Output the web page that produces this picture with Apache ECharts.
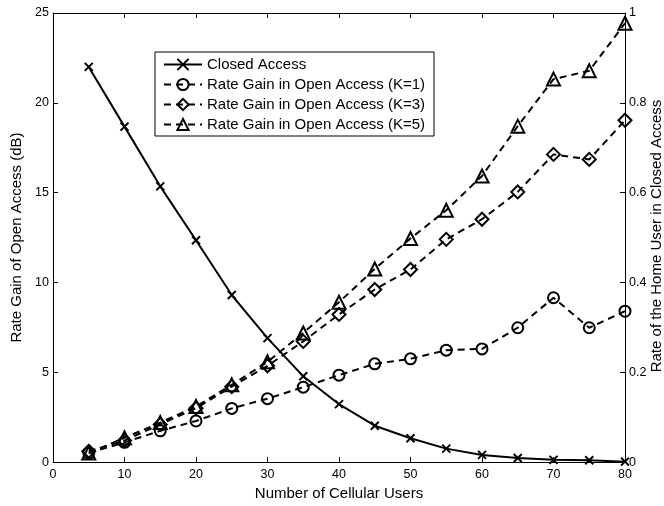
<!DOCTYPE html>
<html>
<head>
<meta charset="utf-8">
<script src="https://cdn.jsdelivr.net/npm/echarts@6/dist/echarts.min.js"></script>
<style>
  html, body { margin: 0; padding: 0; background: #fff; }
  #chart { width: 664px; height: 506px; }
</style>
</head>
<body>
<div id="chart"></div>
<script>
var users = [5, 10, 15, 20, 25, 30, 35, 40, 45, 50, 55, 60, 65, 70, 75, 80];
var closedAccess = [0.88, 0.747, 0.614, 0.494, 0.372, 0.276, 0.191, 0.129, 0.081, 0.053, 0.030, 0.016, 0.009, 0.005, 0.004, 0.001];
var gainK1 = [0.5, 1.1, 1.74, 2.29, 2.99, 3.53, 4.17, 4.84, 5.47, 5.75, 6.23, 6.30, 7.48, 9.15, 7.48, 8.4];
var gainK3 = [0.6, 1.2, 2.1, 3.0, 4.2, 5.36, 6.72, 8.22, 9.61, 10.72, 12.4, 13.52, 15.04, 17.13, 16.85, 19.03];
var gainK5 = [0.5, 1.35, 2.2, 3.1, 4.3, 5.58, 7.19, 8.9, 10.75, 12.45, 14.02, 15.93, 18.7, 21.32, 21.78, 24.43];

var seriesNames = ['Closed Access', 'Rate Gain in Open Access (K=1)', 'Rate Gain in Open Access (K=3)', 'Rate Gain in Open Access (K=5)'];

function pairs(ys) {
    return users.map(function (x, i) { return [x, ys[i]]; });
}

var chart = echarts.init(document.getElementById('chart'));

var font = 'Liberation Sans, Arial, sans-serif';

function axisLine() {
    return { show: true, onZero: false, lineStyle: { color: '#000', width: 1 } };
}
function axisTick() {
    return { show: true, inside: true, length: 5, lineStyle: { color: '#000', width: 1 } };
}
var hollow = { color: 'transparent', borderColor: '#000', borderWidth: 2 };

function dashed(name, data, symbol, size) {
    return {
        name: name,
        type: 'line',
        data: pairs(data),
        symbol: symbol,
        symbolSize: size,
        showSymbol: true,
        lineStyle: { color: '#000', width: 2, type: [7, 5] },
        itemStyle: hollow,
        emphasis: { disabled: true },
        z: 3
    };
}

var option = {
    animation: false,
    textStyle: { fontFamily: font },
    grid: { left: 53, right: 39, top: 13, bottom: 42 },
    legend: {
        orient: 'vertical',
        left: 155,
        top: 52,
        padding: [5, 9, 4, 8],
        itemGap: 5,
        itemWidth: 38,
        itemHeight: 14,
        backgroundColor: '#fff',
        borderColor: '#000',
        borderWidth: 1,
        borderRadius: 0,
        textStyle: { fontSize: 15, color: '#000', fontFamily: font },
        data: seriesNames
    },
    xAxis: [{
        type: 'value',
        min: 0, max: 80, interval: 10,
        name: 'Number of Cellular Users',
        nameLocation: 'middle',
        nameGap: 22,
        nameTextStyle: { fontSize: 15, color: '#000' },
        axisLine: axisLine(),
        axisTick: axisTick(),
        axisLabel: { fontSize: 12.5, color: '#000', margin: 6 },
        splitLine: { show: false }
    }, {
        type: 'value',
        position: 'top',
        min: 0, max: 80, interval: 10,
        axisLine: axisLine(),
        axisTick: axisTick(),
        axisLabel: { show: false },
        splitLine: { show: false }
    }],
    yAxis: [{
        type: 'value',
        position: 'left',
        min: 0, max: 25, interval: 5,
        name: 'Rate Gain of Open Access (dB)',
        nameLocation: 'middle',
        nameGap: 25,
        nameTextStyle: { fontSize: 15, color: '#000' },
        axisLine: axisLine(),
        axisTick: axisTick(),
        axisLabel: { fontSize: 12.5, color: '#000', margin: 4 },
        splitLine: { show: false }
    }, {
        type: 'value',
        position: 'right',
        min: 0, max: 1, interval: 0.2,
        axisLine: axisLine(),
        axisTick: axisTick(),
        axisLabel: { fontSize: 12.5, color: '#000', margin: 4 },
        splitLine: { show: false }
    }],
    graphic: [{
        type: 'text',
        x: 657,
        y: 236,
        rotation: Math.PI / 2,
        style: {
            text: 'Rate of the Home User in Closed Access',
            font: '15px ' + font,
            fill: '#000',
            align: 'center',
            verticalAlign: 'middle'
        }
    }],
    series: [
        {
            name: seriesNames[0],
            type: 'line',
            yAxisIndex: 1,
            data: pairs(closedAccess),
            symbol: 'path://M0,0L10,10M10,0L0,10',
            symbolSize: 8,
            showSymbol: true,
            lineStyle: { color: '#000', width: 2 },
            itemStyle: hollow,
            emphasis: { disabled: true },
            z: 3
        },
        dashed(seriesNames[1], gainK1, 'circle', 11),
        dashed(seriesNames[2], gainK3, 'diamond', 13),
        dashed(seriesNames[3], gainK5, 'triangle', 13)
    ]
};

chart.setOption(option);
</script>
</body>
</html>
